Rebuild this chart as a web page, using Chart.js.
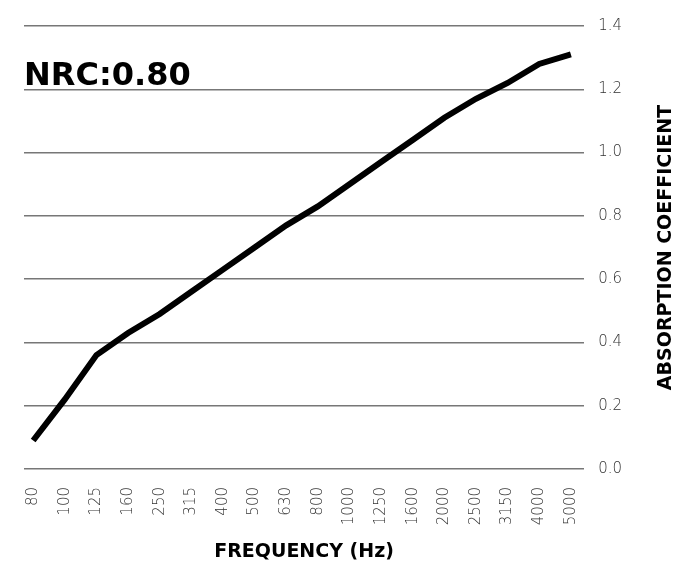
<!DOCTYPE html>
<html>
<head>
<meta charset="utf-8">
<script src="https://cdn.jsdelivr.net/npm/chart.js@4.4.0/dist/chart.umd.min.js"></script>
<style>
  html, body { margin:0; padding:0; background:#fff; }
  #wrap { width:680px; height:566px; position:relative; }
</style>
</head>
<body>
<div id="wrap"><canvas id="graficoNRC"></canvas></div>
<script>
// ------------------- DATA -------------------
const frequencias = ['80','100','125','160','250','315','400','500','630','800','1000','1250','1600','2000','2500','3150','4000','5000'];
const coeficientes = [0.09,0.22,0.36,0.43,0.49,0.56,0.63,0.70,0.77,0.83,0.90,0.97,1.04,1.11,1.17,1.22,1.28,1.31];
const yTicks = [0,0.2,0.4,0.6,0.8,1.0,1.2,1.4];
const nrcTexto = 'NRC:0.80';
const tituloX = 'FREQUENCY (Hz)';
const tituloY = 'ABSORPTION COEFFICIENT';

const fonte = "'DejaVu Sans', sans-serif";

// extra texts: NRC label and y title read bottom-to-top
const textosExtras = {
  id:'textosExtras',
  afterDraw(chart){
    const {ctx, chartArea} = chart;
    ctx.save();
    ctx.fillStyle = '#000';
    ctx.font = "bold 32px " + fonte;
    ctx.textAlign = 'left';
    ctx.textBaseline = 'alphabetic';
    ctx.fillText(nrcTexto, chartArea.left, 85);

    ctx.translate(666, (chartArea.top + chartArea.bottom)/2);
    ctx.rotate(-Math.PI/2);
    ctx.font = "bold 19px " + fonte;
    ctx.textAlign = 'center';
    ctx.textBaseline = 'middle';
    ctx.fillText(tituloY, 0, 0);
    ctx.restore();
  }
};

const ctx = document.getElementById('graficoNRC').getContext('2d');

new Chart(ctx,{
  type:'line',
  data:{
    datasets:[{
      data: coeficientes.map((v,i)=>({x:i, y:v})),
      borderColor:'#000',
      borderWidth:6,
      pointRadius:0,
      tension:0,
      fill:false
    }]
  },
  options:{
    responsive:true,
    maintainAspectRatio:false,
    animation:false,
    layout:{padding:{left:24, right:44, top:26, bottom:3}},
    plugins:{
      legend:{display:false},
      tooltip:{enabled:false}
    },
    scales:{
      x:{
        type:'linear',
        min:-0.29,
        max:17.42,
        afterBuildTicks: axis => { axis.ticks = frequencias.map((f,i)=>({value:i})); },
        grid:{display:false},
        border:{display:false},
        ticks:{
          callback: v => frequencias[v],
          minRotation:90,
          maxRotation:90,
          padding:10,
          color:'#333',
          font:{family:fonte, size:15, weight:'200'}
        },
        title:{
          display:true,
          text:tituloX,
          color:'#000',
          padding:{top:5, bottom:0},
          font:{family:fonte, size:19, weight:'bold'}
        }
      },
      y:{
        position:'right',
        min:0,
        max:1.4,
        afterBuildTicks: axis => { axis.ticks = yTicks.map(v=>({value:v})); },
        border:{display:false},
        grid:{color:'#777', lineWidth:1.5, drawTicks:false},
        ticks:{
          callback: v => v.toFixed(1),
          padding:14,
          color:'#333',
          font:{family:fonte, size:15, weight:'200'}
        }
      }
    }
  },
  plugins:[textosExtras]
});
</script>
</body>
</html>
